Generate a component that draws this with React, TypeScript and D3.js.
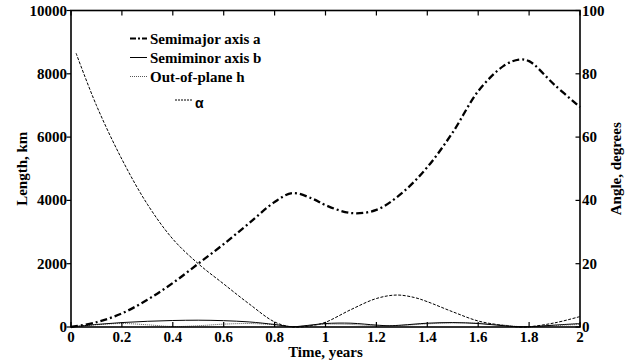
import React from "react";
import * as d3 from "d3";

const aT = [0, 0.1, 0.2, 0.3, 0.4, 0.5, 0.6, 0.7, 0.8, 0.87, 0.95, 1.0, 1.1, 1.2, 1.3, 1.4, 1.5, 1.6, 1.7, 1.76, 1.8, 1.9, 2.0];
const aV = [0, 150, 430, 860, 1390, 2000, 2620, 3280, 3950, 4230, 4050, 3850, 3600, 3700, 4230, 5050, 6150, 7450, 8250, 8450, 8400, 7650, 6950];

const bT = [0, 0.1, 0.2, 0.3, 0.4, 0.5, 0.6, 0.7, 0.8, 0.87, 0.93, 1.0, 1.1, 1.2, 1.25, 1.3, 1.4, 1.5, 1.6, 1.7, 1.78, 1.9, 2.0];
const bV = [0, 80, 140, 180, 205, 215, 200, 160, 80, 10, 50, 110, 120, 60, 40, 60, 120, 140, 110, 40, 5, 60, 110];

const hT = [0, 0.1, 0.2, 0.3, 0.4, 0.5, 0.6, 0.7, 0.8, 0.87, 0.95, 1.0, 1.1, 1.2, 1.3, 1.4, 1.5, 1.6, 1.7, 1.78, 1.9, 2.0];
const hV = [0, 70, 110, 70, 15, 40, 90, 110, 70, 10, 60, 90, 80, 40, 50, 100, 130, 120, 60, 5, 50, 80];

const alT = [0.02, 0.1, 0.2, 0.3, 0.4, 0.5, 0.6, 0.7, 0.8, 0.87, 0.95, 1.0, 1.1, 1.2, 1.28, 1.35, 1.4, 1.5, 1.6, 1.7, 1.78, 1.9, 2.0];
const alV = [86.5, 70, 53, 38.8, 27.8, 20, 13.6, 7.3, 1.6, 0, 0.5, 1.5, 5.5, 9, 10.1, 9.3, 8, 4.8, 1.9, 0.5, 0, 1.3, 3.3];

const xTicks = [0, 0.2, 0.4, 0.6, 0.8, 1, 1.2, 1.4, 1.6, 1.8, 2];
const yLeftTicks = [0, 2000, 4000, 6000, 8000, 10000];
const yRightTicks = [0, 20, 40, 60, 80, 100];

const legendLabels = ["Semimajor axis a", "Semiminor axis b", "Out-of-plane h", "α"];

const W = 641, H = 364;
const L = 71, R = 580, T = 10.5, B = 327;

export default function App() {
  const x = d3.scaleLinear().domain([0, 2]).range([L, R]);
  const yL = d3.scaleLinear().domain([0, 10000]).range([B, T]);
  const yR = d3.scaleLinear().domain([0, 100]).range([B, T]);
  const mk = (ts: number[], vs: number[], ys: d3.ScaleLinear<number, number>) =>
    d3.line<number>().x((_, i) => x(ts[i])).y((v) => ys(v)).curve(d3.curveCatmullRom.alpha(0.5))(vs) || "";

  const font = "'Liberation Serif', 'Times New Roman', Times, serif";
  const fs = 15;
  return (
    <svg width={W} height={H} style={{ position: "absolute", left: 0, top: 0, background: "#fff" }}>
      <rect x={0} y={0} width={W} height={H} fill="#fff" />
      {/* curves */}
      <path d={mk(alT, alV, yR)} fill="none" stroke="#000" strokeWidth={1} strokeDasharray="3,1.5" />
      <path d={mk(hT, hV, yL)} fill="none" stroke="#444" strokeWidth={0.9} strokeDasharray="1,1" />
      <path d={mk(bT, bV, yL)} fill="none" stroke="#000" strokeWidth={1} />
      <path d={mk(aT, aV, yL)} fill="none" stroke="#000" strokeWidth={2.3} strokeDasharray="7,3,2,3" />
      {/* frame */}
      <rect x={L} y={T} width={R - L} height={B - T} fill="none" stroke="#000" strokeWidth={1.6} />
      {/* x ticks */}
      {xTicks.map((t) => (
        <g key={"x" + t}>
          <line x1={x(t)} x2={x(t)} y1={B} y2={B - 5} stroke="#000" strokeWidth={1.2} />
          <line x1={x(t)} x2={x(t)} y1={T} y2={T + 5} stroke="#000" strokeWidth={1.2} />
          <text x={x(t)} y={342} textAnchor="middle" fontFamily={font} fontWeight="bold" fontSize={fs}>{t}</text>
        </g>
      ))}
      {yLeftTicks.map((v) => (
        <g key={"yl" + v}>
          <line x1={L - 4.5} x2={L} y1={yL(v)} y2={yL(v)} stroke="#000" strokeWidth={1.2} />
          <text x={L - 4} y={yL(v) + 5} textAnchor="end" fontFamily={font} fontWeight="bold" fontSize={fs}>{v}</text>
        </g>
      ))}
      {yRightTicks.map((v) => (
        <g key={"yr" + v}>
          <line x1={R - 4.5} x2={R} y1={yR(v)} y2={yR(v)} stroke="#000" strokeWidth={1.2} />
          <text x={R + 2} y={yR(v) + 5} textAnchor="start" fontFamily={font} fontWeight="bold" fontSize={fs}>{v}</text>
        </g>
      ))}
      {/* axis titles */}
      <text x={(L + R) / 2} y={357} textAnchor="middle" fontFamily={font} fontWeight="bold" fontSize={15}>Time, years</text>
      <text transform={`translate(27,${(T + B) / 2}) rotate(-90)`} textAnchor="middle" fontFamily={font} fontWeight="bold" fontSize={15}>Length, km</text>
      <text transform={`translate(621,${(T + B) / 2}) rotate(-90)`} textAnchor="middle" fontFamily={font} fontWeight="bold" fontSize={15}>Angle, degrees</text>
      {/* legend */}
      <line x1={130} x2={147} y1={38.5} y2={38.5} stroke="#000" strokeWidth={2} strokeDasharray="6,2,2,2" />
      <text x={150} y={43.5} fontFamily={font} fontWeight="bold" fontSize={fs}>{legendLabels[0]}</text>
      <line x1={130} x2={147} y1={57.5} y2={57.5} stroke="#000" strokeWidth={1} />
      <text x={150} y={62.5} fontFamily={font} fontWeight="bold" fontSize={fs}>{legendLabels[1]}</text>
      <line x1={130} x2={147} y1={76.5} y2={76.5} stroke="#444" strokeWidth={0.9} strokeDasharray="1,1" />
      <text x={150} y={81.5} fontFamily={font} fontWeight="bold" fontSize={fs}>{legendLabels[2]}</text>
      <line x1={175} x2={192} y1={100} y2={100} stroke="#000" strokeWidth={1} strokeDasharray="2,1" />
      <text x={195} y={108} fontFamily="'Liberation Sans', Arial, sans-serif" fontWeight="bold" fontSize={14}>{legendLabels[3]}</text>
    </svg>
  );
}
